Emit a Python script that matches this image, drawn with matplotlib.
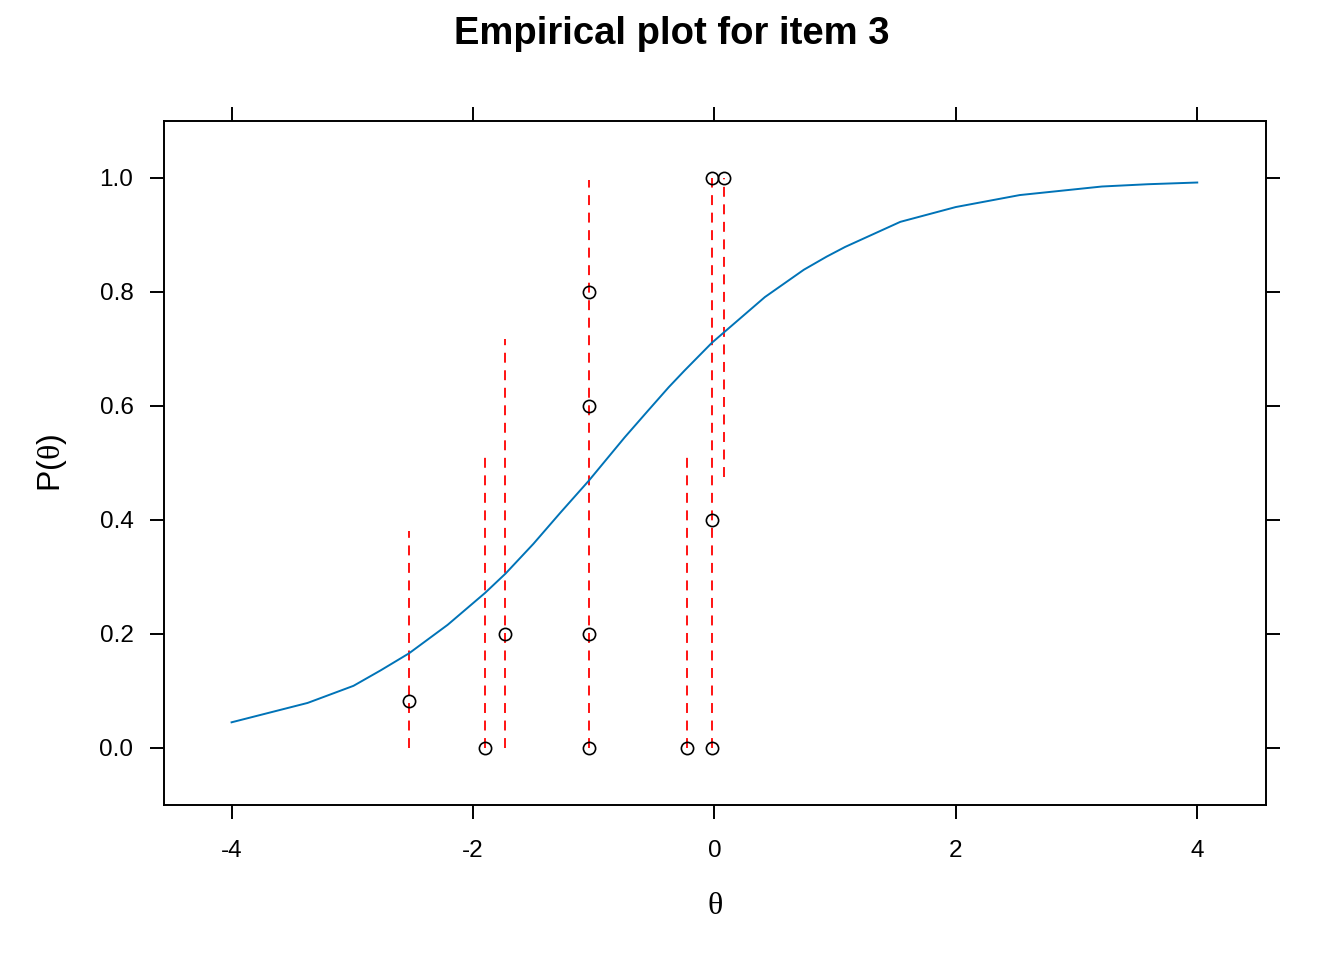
import matplotlib
matplotlib.use("Agg")
import matplotlib.pyplot as plt

# fitted trace line
theta_curve = [-4.0, -3.37, -2.99, -2.766, -2.53, -2.21, -1.90, -1.73, -1.50, -1.275,
               -1.04, -0.743, -0.553, -0.378, -0.248, -0.02, 0.418, 0.741, 0.93,
               1.083, 1.54, 2.0, 2.53, 3.21, 3.59, 4.0]
p_curve = [0.045, 0.079, 0.109, 0.136, 0.166, 0.216, 0.272, 0.306, 0.358, 0.413,
           0.469, 0.545, 0.591, 0.633, 0.662, 0.711, 0.791, 0.839, 0.862,
           0.879, 0.923, 0.949, 0.970, 0.985, 0.989, 0.992]

# empirical proportions
theta_pts = [-2.526, -1.897, -1.731, -1.043, -1.043, -1.043, -1.043, -0.224,
             -0.017, -0.017, -0.017, 0.083]
p_pts = [0.083, 0.0, 0.2, 0.0, 0.2, 0.6, 0.8, 0.0, 0.0, 0.4, 1.0, 1.0]

# confidence intervals
theta_ci = [-2.526, -1.897, -1.731, -1.043, -0.224, -0.017, 0.083]
ci_low = [0.0, 0.0, 0.0, 0.0, 0.0, 0.0, 0.476]
ci_high = [0.381, 0.519, 0.717, 0.996, 0.519, 1.0, 1.0]

plt.rcParams['font.family'] = ['Liberation Sans', 'DejaVu Sans']
plt.rcParams['axes.unicode_minus'] = False
plt.rcParams['mathtext.fontset'] = 'custom'
plt.rcParams['mathtext.rm'] = 'Liberation Serif'
plt.rcParams['mathtext.it'] = 'Liberation Serif'

fig = plt.figure(figsize=(13.44, 9.6), dpi=100)
ax = fig.add_axes([0.122, 0.1615, 0.820, 0.7125])

ax.vlines(theta_ci, ci_low, ci_high, colors='red', linewidth=1.3,
          linestyles=(0, (5.5, 4.2)))
ax.plot(theta_curve, p_curve, color='#0073B7', linewidth=1.4)
ax.plot(theta_pts, p_pts, 'o', mfc='none', mec='black', ms=8.8, mew=1.2)

ax.set_xlim(-4.56, 4.57)
ax.set_ylim(-0.1, 1.1)
ax.set_xticks([-4, -2, 0, 2, 4])
ax.set_yticks([0.0, 0.2, 0.4, 0.6, 0.8, 1.0])
ax.set_yticklabels(['0.0', '0.2', '0.4', '0.6', '0.8', '1.0'])
ax.tick_params(direction='out', length=10, width=1.4, labelsize=17.5,
               top=True, right=True)
ax.tick_params(axis='y', pad=12)
ax.tick_params(axis='x', pad=15)
for s in ax.spines.values():
    s.set_linewidth(1.4)

ax.set_xlabel('θ', family='Liberation Serif', fontsize=23, labelpad=22)
ax.set_ylabel(r'P($\mathrm{\theta}$)', fontsize=23, labelpad=22)
fig.suptitle('Empirical plot for item 3', fontsize=27.5, fontweight='bold', y=0.983)

fig.savefig('out.png', dpi=100)
